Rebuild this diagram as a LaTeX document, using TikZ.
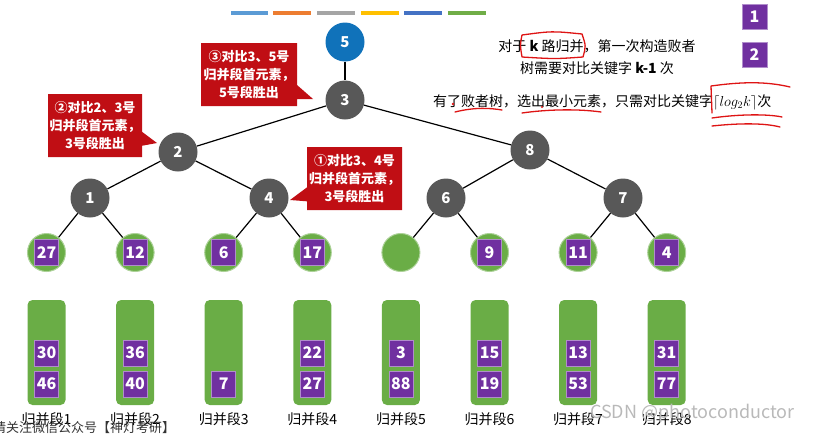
\documentclass[tikz,border=0pt]{standalone}
\usepackage{fontspec}
\setmainfont{Noto Sans CJK SC}
\usetikzlibrary{shapes.callouts}
\definecolor{nblue}{RGB}{16,114,186}
\definecolor{ngray}{RGB}{88,88,88}
\definecolor{ngreen}{RGB}{106,173,70}
\definecolor{npurple}{RGB}{112,48,160}
\definecolor{nred}{RGB}{192,14,20}
\definecolor{annot}{RGB}{222,20,20}
\definecolor{bA}{RGB}{91,155,213}
\definecolor{bB}{RGB}{237,125,49}
\definecolor{bC}{RGB}{165,165,165}
\definecolor{bD}{RGB}{255,192,0}
\definecolor{bE}{RGB}{68,114,196}
\definecolor{bF}{RGB}{112,173,71}
\begin{document}
\begin{tikzpicture}[x=1pt,y=-1pt,
  inode/.style={circle,fill=ngray,minimum size=39pt,inner sep=0pt,text=white,font=\bfseries\fontsize{15}{15}\selectfont},
  leaf/.style={circle,fill=ngreen,draw=ngreen!55!white,line width=1pt,minimum size=38pt,inner sep=0pt},
  pbox/.style={fill=npurple,draw=npurple!55!white,line width=0.6pt,minimum width=24pt,minimum height=26pt,inner sep=0pt,text=white,font=\bfseries\fontsize{16}{16}\selectfont},
  seg/.style={fill=ngreen,rounded corners=5pt,minimum width=38pt,minimum height=105pt,inner sep=0pt},
  call/.style={rectangle callout,fill=nred,text=white,align=center,font=\bfseries\fontsize{13}{18}\selectfont,inner sep=0pt,minimum height=63pt,callout pointer width=14pt},
  lab/.style={font=\fontsize{14}{14}\selectfont},
  tline/.style={line width=1.2pt},
  note/.style={line width=1.3pt,annot,line cap=round,line join=round}
]
\useasboundingbox (0,0) rectangle (813,434);
% colour bars
\fill[bA] (231,11) rectangle (268,15);
\fill[bB] (273,11) rectangle (311,15);
\fill[bC] (317,11) rectangle (355,15);
\fill[bD] (361,11) rectangle (399,15);
\fill[bE] (404,11) rectangle (442,15);
\fill[bF] (448,11) rectangle (486,15);
% tree nodes
\node[inode,fill=nblue] (n5) at (345,42) {5};
\node[inode] (n3) at (345,100) {3};
\node[inode] (n2) at (178,152) {2};
\node[inode] (n8) at (530,150) {8};
\node[inode] (n1) at (90,198) {1};
\node[inode] (n4) at (269,198) {4};
\node[inode] (n6) at (446,198) {6};
\node[inode] (n7) at (623,198) {7};
% leaves, segments
\foreach \i/\a/\b/\c/\l in {1/27/30/46/归并段1,2/12/36/40/归并段2,3/6//7/归并段3,4/17/22/27/归并段4,5//3/88/归并段5,6/9/15/19/归并段6,7/11/13/53/归并段7,8/4/31/77/归并段8}{
  \pgfmathsetmacro{\xx}{46.5+88.6*(\i-1)}
  \node[leaf] (L\i) at (\xx,252.5) {};
  \if\relax\detokenize\expandafter{\a}\relax\else
    \node[pbox] (q\i) at (\xx,252.5) {\a};
  \fi
  \node[seg] (s\i) at (\xx,352.5) {};
  \if\relax\detokenize\expandafter{\b}\relax\else
    \node[pbox] (u\i) at (\xx,353) {\b};
  \fi
  \node[pbox] (v\i) at (\xx,384) {\c};
  \node[lab] (g\i) at (\xx,419) {\l};
}
% tree edges
\draw[tline] (n5) -- (n3);
\draw[tline] (n3) -- (n2);
\draw[tline] (n3) -- (n8);
\draw[tline] (n2) -- (n1);
\draw[tline] (n2) -- (n4);
\draw[tline] (n8) -- (n6);
\draw[tline] (n8) -- (n7);
\draw[tline] (n1) -- (L1);
\draw[tline] (n1) -- (L2);
\draw[tline] (n4) -- (L3);
\draw[tline] (n4) -- (L4);
\draw[tline] (n6) -- (L5);
\draw[tline] (n6) -- (L6);
\draw[tline] (n7) -- (L7);
\draw[tline] (n7) -- (L8);
% callouts
\node[call,minimum width=96pt,callout absolute pointer={(313,99)}] (c3) at (249,74.5) {③对比3、5号\\归并段首元素，\\5号段胜出};
\node[call,minimum width=94pt,callout absolute pointer={(157,143)}] (c2) at (95,125.5) {②对比2、3号\\归并段首元素，\\3号段胜出};
\node[call,minimum width=95pt,callout absolute pointer={(290,200)}] (c1) at (354.5,178.5) {①对比3、4号\\归并段首元素，\\3号段胜出};
% legend
\node[pbox,minimum width=25pt,minimum height=25pt] (lg1) at (754.5,16.5) {1};
\node[pbox,minimum width=25pt,minimum height=25pt] (lg2) at (754.5,55) {2};
% texts
\node[lab] (t1) at (597,46) {对于 \textbf{k} 路归并，第一次构造败者};
\node[lab] (t2) at (597,68) {树需要对比关键字 \textbf{k-1} 次};
\node[lab,anchor=west,inner sep=0pt] (t3) at (433,102) {有了败者树，选出最小元素，只需对比关键字$\lceil log_2k\rceil$次};
% red annotations
\draw[note] (522,57) .. controls (520,45) .. (522,35) .. controls (552,31) .. (582,34) .. controls (586,46) .. (583,57) .. controls (555,59) .. (522,57);
\draw[note] (455,112) .. controls (475,107) and (490,108) .. (502,110);
\draw[note] (522,113) .. controls (550,109) and (580,109) .. (601,112);
\fill[annot] (453,104) circle (1.4);
\fill[annot] (542,107) circle (1.2);
\draw[note] (712,113) -- (711,86) .. controls (740,82) and (765,81) .. (790,87);
\draw[note] (712,118) .. controls (740,114) and (768,114) .. (782,117);
\draw[note] (712,126) .. controls (740,123) and (765,123) .. (780,127);
% watermarks
\node[font=\fontsize{13}{13}\selectfont,text=black!80,anchor=west,inner sep=0pt] (wm) at (-7,428) {请关注微信公众号【神灯考研】};
\node[font=\fontsize{18}{18}\selectfont,text=gray!55,anchor=west,inner sep=0pt] (csdn) at (590,413) {CSDN @photoconductor};
\end{tikzpicture}
\end{document}
